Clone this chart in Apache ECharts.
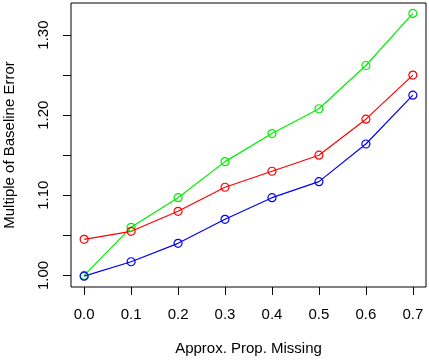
<!DOCTYPE html>
<html>
<head>
<meta charset="utf-8">
<script src="https://cdn.jsdelivr.net/npm/echarts@6/dist/echarts.min.js"></script>
<style>
  html, body { margin: 0; padding: 0; background: #fff; }
  #main { width: 429px; height: 362px; }
</style>
</head>
<body>
<div id="main"></div>
<script>
// data
var propMissing = [0.0, 0.1, 0.2, 0.3, 0.4, 0.5, 0.6, 0.7];
var greenVals = [1.000, 1.060, 1.097, 1.142, 1.177, 1.208, 1.262, 1.327];
var redVals = [1.045, 1.055, 1.080, 1.110, 1.130, 1.150, 1.195, 1.250];
var blueVals = [0.999, 1.017, 1.040, 1.070, 1.097, 1.117, 1.164, 1.225];
var xTicks = [0.0, 0.1, 0.2, 0.3, 0.4, 0.5, 0.6, 0.7];
var yTicks = [1.00, 1.05, 1.10, 1.15, 1.20, 1.25, 1.30];
var yLabels = [1.00, 1.10, 1.20, 1.30];

function pairs(vals) {
  return propMissing.map(function (x, i) { return [x, vals[i]]; });
}

var font = 'Liberation Sans, Arial, Helvetica, sans-serif';
var myChart = echarts.init(document.getElementById('main'));

// open circles with the line running through them, like R's type="o"
function line(name, color, vals) {
  return {
    name: name,
    type: 'line',
    data: pairs(vals),
    symbol: 'circle',
    symbolSize: 8,
    lineStyle: { color: color, width: 1.2 },
    itemStyle: { color: 'rgba(0,0,0,0)', borderColor: color, borderWidth: 1.2 },
    emphasis: { disabled: true },
    animation: false
  };
}

myChart.setOption({
  animation: false,
  grid: {
    left: 71, top: 3, width: 355, height: 284,
    outerBoundsMode: 'none',
    containLabel: false,
    show: true, borderColor: '#000', borderWidth: 1, backgroundColor: 'transparent'
  },
  xAxis: {
    type: 'value',
    min: -0.028,
    max: 0.728,
    name: 'Approx. Prop. Missing',
    nameLocation: 'middle',
    nameGap: 54,
    nameTextStyle: { color: '#000', fontSize: 15, fontFamily: font },
    axisLine: { show: false, onZero: false },
    splitLine: { show: false },
    axisTick: { show: true, inside: false, length: 8, lineStyle: { color: '#000' }, customValues: xTicks },
    axisLabel: {
      color: '#000', fontSize: 15, fontFamily: font, margin: 20,
      customValues: xTicks,
      formatter: function (v) { return v.toFixed(1); }
    }
  },
  yAxis: {
    type: 'value',
    min: 0.9855,
    max: 1.340,
    name: 'Multiple of Baseline Error',
    nameLocation: 'middle',
    nameGap: 54,
    nameTextStyle: { color: '#000', fontSize: 15, fontFamily: font },
    axisLine: { show: false, onZero: false },
    splitLine: { show: false },
    axisTick: { show: true, inside: false, length: 8, lineStyle: { color: '#000' }, customValues: yTicks },
    axisLabel: {
      color: '#000', fontSize: 15, fontFamily: font, margin: 20, rotate: 90,
      customValues: yLabels,
      formatter: function (v) { return v.toFixed(2); }
    }
  },
  series: [
    line('green', '#00ee00', greenVals),
    line('red', '#ff0000', redVals),
    line('blue', '#0000ff', blueVals)
  ]
});
</script>
</body>
</html>
